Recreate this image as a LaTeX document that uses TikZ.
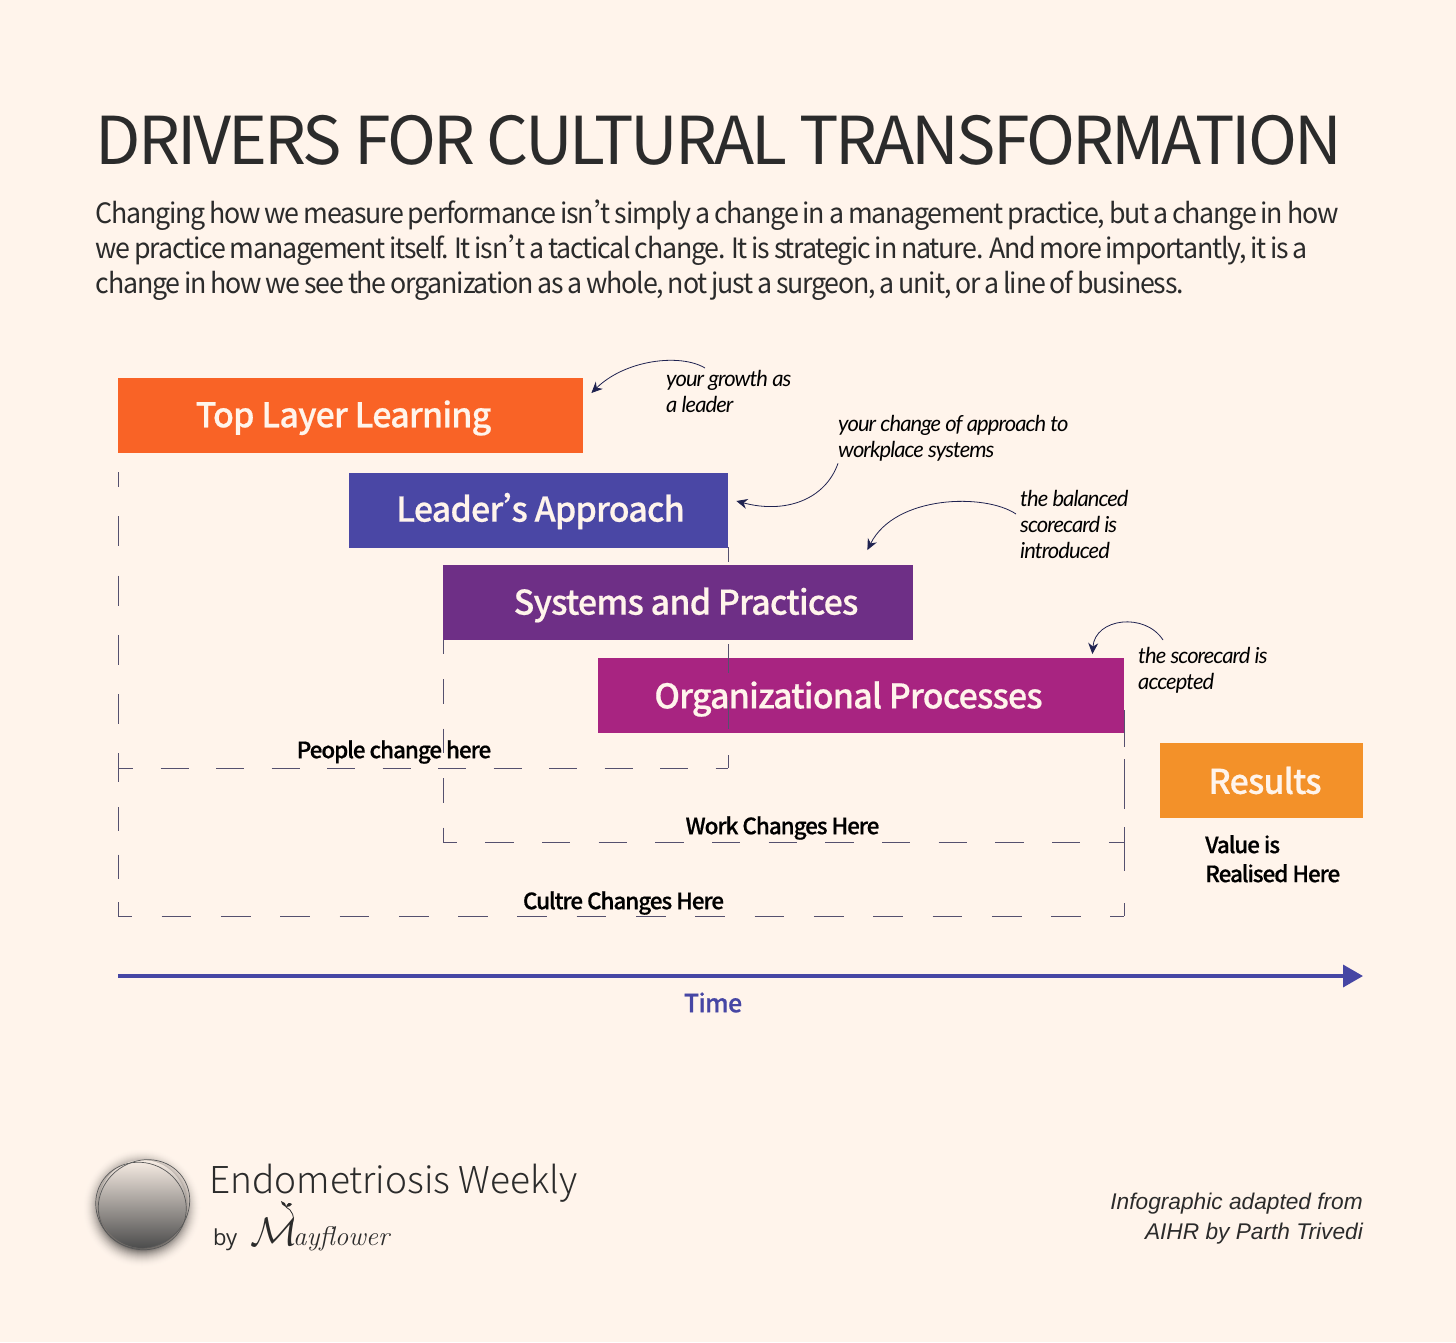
\documentclass[tikz,border=0pt]{standalone}
\usepackage{fontspec}
\usetikzlibrary{arrows.meta}

\newfontfamily\titlefont[LetterSpace=-4.35]{Noto Sans CJK SC}
\newfontfamily\bodyfont[LetterSpace=-4.3,FakeStretch=0.955,WordSpace=0.8]{Noto Sans CJK SC}
\newfontfamily\medfont[LetterSpace=-2.5,FakeBold=0.5]{Noto Sans CJK SC Medium}
\newfontfamily\zonefont[LetterSpace=-4.8,FakeBold=0.5]{Noto Sans CJK SC Medium}
\newfontfamily\lightfont{Noto Sans CJK SC Light}
\newfontfamily\notefont[LetterSpace=-4.3]{Lato}
\newfontfamily\creditfont{Liberation Sans}
\newfontfamily\byfont{Open Sans}
\newcommand{\apos}{\makebox[0.24em][l]{’}}

\definecolor{paper}{HTML}{FFF4EB}
\definecolor{inkdark}{HTML}{2B2B2B}
\definecolor{navy}{HTML}{1F2250}
\definecolor{dashgrey}{HTML}{55506E}
\definecolor{axisblue}{HTML}{4646A4}
\definecolor{toporange}{HTML}{F96326}
\definecolor{leaderblue}{HTML}{4A47A5}
\definecolor{syspurple}{HTML}{6E2F86}
\definecolor{orgmagenta}{HTML}{A82481}
\definecolor{resultorange}{HTML}{F39129}

\tikzset{
  bar/.style={anchor=north west, minimum height=75pt, inner sep=0pt},
  barlabel/.style={font=\medfont\fontsize{34}{34}\selectfont, text=paper, inner sep=0pt},
  zonelabel/.style={font=\zonefont\fontsize{22.5}{22.5}\selectfont, text=black, inner sep=0pt},
  notelabel/.style={anchor=north west, align=left, inner sep=0pt, text=black,
    font=\notefont\itshape\fontsize{22}{26}\selectfont},
  notearrow/.style={navy, line width=0.8pt, -{Stealth[length=11pt,width=10pt]}},
  zoneline/.style={dashgrey, line width=0.9pt}
}

\begin{document}
\begin{tikzpicture}[x=1pt, y=-1pt]
  \useasboundingbox (0,0) rectangle (1456,1342);
  \fill[paper] (0,0) rectangle (1456,1342);

  \node[anchor=west, inner sep=0pt, text=inkdark, font=\titlefont\fontsize{66}{66}\selectfont]
    (title) at (95.5,140) {DRIVERS FOR CULTURAL TRANSFORMATION};
  \node[anchor=north west, inner sep=0pt, align=left, text=inkdark, font=\bodyfont\fontsize{28}{34.7}\selectfont]
    (intro) at (95.5,200) {Changing how we measure performance isn\apos t simply a change in a management practice, but a change in how\\
    we practice management itself. It isn\apos t a tactical change. It is strategic in nature. And more importantly, it is a\\
    change in how we see the organization as a whole, not just a surgeon, a unit, or a line of business.};

  % bars
  \node[bar, fill=toporange, minimum width=465pt] (top) at (118,378) {};
  \node[bar, fill=leaderblue, minimum width=379pt] (leader) at (349,473) {};
  \node[bar, fill=orgmagenta, minimum width=526pt] (org) at (598,658) {};
  \node[bar, fill=resultorange, minimum width=203pt] (results) at (1160,743) {};

  % dashed zones, each leg has its own rhythm
  \draw[zoneline, dash pattern=on 30pt off 29.25pt, dash phase=15pt] (118,472) -- (118,782);
  \draw[zoneline, dash pattern=on 24pt off 23.5pt] (118,807) -- (118,916);
  \draw[zoneline, dash pattern=on 28pt off 27.5pt, dash phase=13pt] (118,768) -- (728,768);
  \draw[zoneline, dash pattern=on 29pt off 26.5pt, dash phase=14pt] (728,547) -- (728,768);
  \draw[zoneline, dash pattern=on 24.5pt off 25pt, dash phase=10.5pt] (443,640) -- (443,842);
  \draw[zoneline, dash pattern=on 28.3pt off 28.37pt, dash phase=14.3pt] (443,842) -- (1124,842);
  \draw[zoneline, dash pattern=on 37pt off 12pt on 50pt off 18pt on 44pt off 32pt on 13pt off 50pt] (1124,710) -- (1124,916);
  \draw[zoneline, dash pattern=on 29.7pt off 29.6pt, dash phase=15.7pt] (118,916) -- (1124,916);

  \node[bar, fill=syspurple, minimum width=470pt] (systems) at (443,565) {};

  \node[barlabel] (toplabel) at (343.5,418) {Top Layer Learning};
  \node[barlabel] (leaderlabel) at (540.5,511) {Leader\apos s Approach};
  \node[barlabel] (systemslabel) at (686,605) {Systems and Practices};
  \node[barlabel] (orglabel) at (848.5,699) {Organizational Processes};
  \node[barlabel] (resultslabel) at (1265,780.5) {Results};

  \node[zonelabel] (people) at (394,752) {People change here};
  \node[zonelabel] (work) at (782.5,828) {Work Changes Here};
  \node[zonelabel] (culture) at (623.5,903) {Cultre Changes Here};
  \node[zonelabel, anchor=north west, align=left, font=\zonefont\fontsize{22.5}{29}\selectfont]
    (value) at (1205,835) {Value is\\Realised Here};

  % side notes and their arrows
  \node[notelabel] (growthnote) at (666,370) {your growth as\\a leader};
  \node[notelabel] (approachnote) at (838,415) {your change of approach to\\workplace systems};
  \node[notelabel] (scorenote) at (1020,490) {the balanced\\scorecard is\\introduced};
  \node[notelabel] (acceptnote) at (1138,647) {the scorecard is\\accepted};

  \draw[notearrow] ([xshift=39pt,yshift=2pt]growthnote.north west) .. controls (680,353) and (625,360) .. ([xshift=8pt,yshift=-15pt]top.north east);
  \draw[notearrow] ([yshift=-2pt]approachnote.south west) .. controls (825,500) and (785,514) .. ([xshift=8pt,yshift=-28pt]leader.north east);
  \draw[notearrow] ([xshift=-4pt,yshift=-24pt]scorenote.north west) .. controls (985,493) and (895,495) .. ([xshift=-46pt,yshift=15pt]systems.north east);
  \draw[notearrow] ([xshift=25pt,yshift=7pt]acceptnote.north west) .. controls (1145,612) and (1095,618) .. ([xshift=-32pt,yshift=4pt]org.north east);

  % time axis
  \coordinate (axisstart) at (118,976);
  \coordinate (axisend) at (1363,976);
  \draw[axisblue, line width=3.5pt, -{Triangle[length=20pt,width=22pt]}] (axisstart) -- (axisend);
  \node[zonelabel, text=axisblue, font=\medfont\fontsize{25}{25}\selectfont] (timelabel) at (713,1002.5) {Time};

  % logo
  \foreach \r in {60,59,...,42} {
    \pgfmathsetmacro{\m}{55*((60-\r)/18)^2}
    \fill[black!\m!paper] (142,1208) circle [radius=\r pt];
  }
  \shade[top color=black!3!paper, middle color=black!32, bottom color=black!70] (142.5,1204) circle [radius=44pt];
  \draw[black!65, line width=0.7pt, rotate around={-30:(141,1206)}] (141,1206) ellipse [x radius=46pt, y radius=43pt];
  \draw[black!65, line width=0.7pt, rotate around={35:(144,1204)}] (144,1204) ellipse [x radius=47pt, y radius=43pt];

  \node[anchor=west, inner sep=0pt, text=inkdark, font=\lightfont\fontsize{37}{37}\selectfont]
    (brand) at (209,1183) {Endometriosis Weekly};
  \node[anchor=west, inner sep=0pt, text=inkdark, font=\byfont\fontsize{22}{22}\selectfont]
    (bylabel) at (213,1240) {by};
  \node[anchor=west, inner sep=0pt, text=inkdark, font=\rmfamily\itshape\fontsize{27}{27}\selectfont]
    (mayflower) at (250,1235) {\scalebox{1.6}{$\mathcal{M}$}\kern-5pt ayflower};
  \draw[inkdark, line width=0.8pt] (291,1226) .. controls (296,1217) and (292,1210) .. (286,1207);
  \fill[inkdark] (286,1207) .. controls (282,1205) and (281,1203) .. (281,1201) .. controls (284,1202) and (286,1203) .. (286,1207)
    .. controls (287,1203) and (289,1202) .. (292,1204) .. controls (291,1206) and (289,1207) .. (286,1207);

  \node[anchor=north east, inner sep=0pt, align=right, text=inkdark, font=\creditfont\itshape\fontsize{22.7}{30}\selectfont]
    (credit) at (1363,1193) {Infographic adapted from\\AIHR by Parth Trivedi};
\end{tikzpicture}
\end{document}
